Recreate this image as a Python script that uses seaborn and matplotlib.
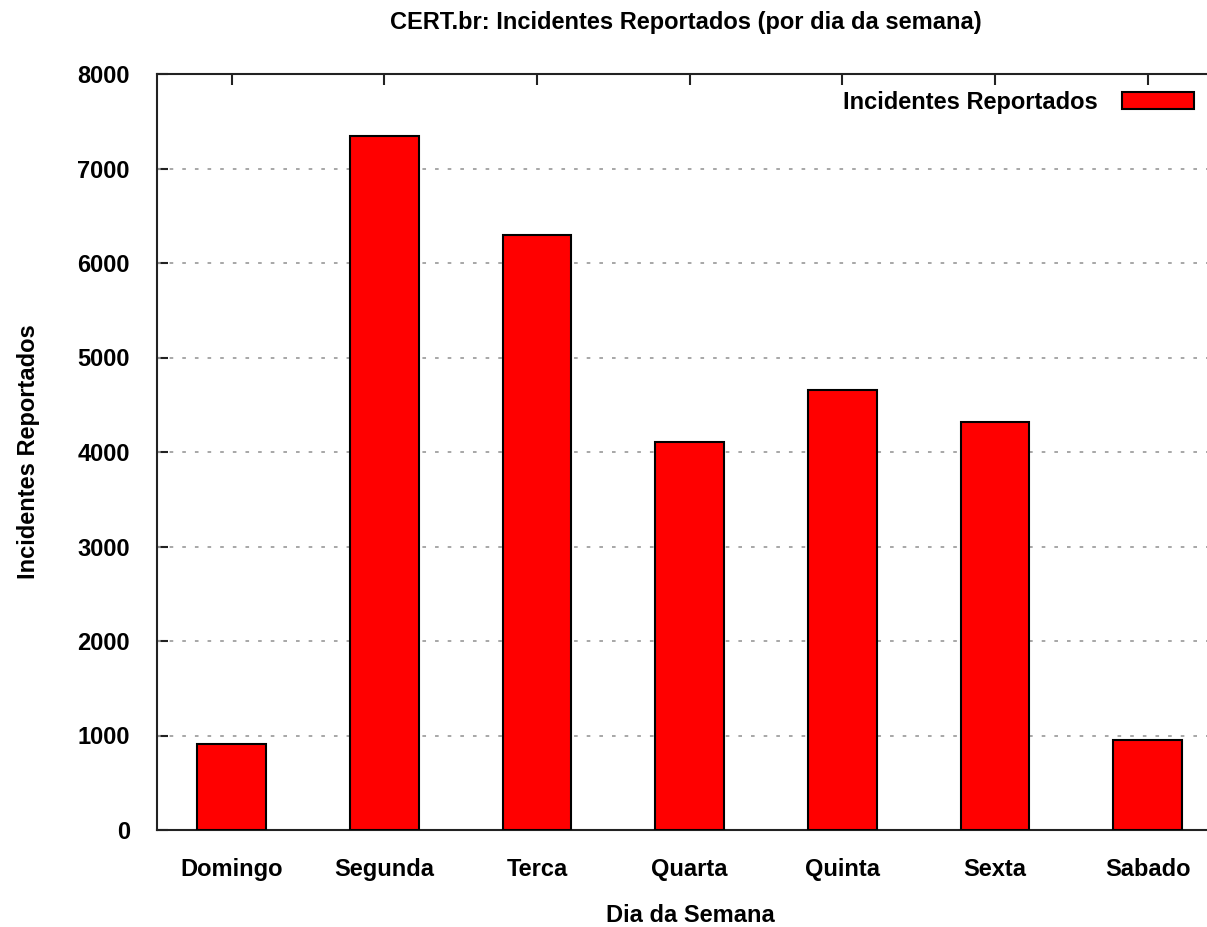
import matplotlib
matplotlib.use("Agg")
import matplotlib.pyplot as plt
import seaborn as sns
import pandas as pd

dias = ["Domingo", "Segunda", "Terca", "Quarta", "Quinta", "Sexta", "Sabado"]
incidentes = [909, 7345, 6300, 4105, 4651, 4313, 948]
yticks = [0, 1000, 2000, 3000, 4000, 5000, 6000, 7000, 8000]

sns.set_theme(style="white")
plt.rcParams["font.family"] = ["Liberation Sans", "DejaVu Sans"]
plt.rcParams["font.weight"] = "bold"
plt.rcParams["text.color"] = "black"
plt.rcParams["axes.labelcolor"] = "black"
plt.rcParams["xtick.color"] = "black"
plt.rcParams["ytick.color"] = "black"

W, H = 1207, 927
fig = plt.figure(figsize=(W / 100, H / 100), dpi=100)
fig.patch.set_facecolor("white")
ax = fig.add_axes([157 / W, (H - 830) / H, (1224 - 157) / W, (830 - 74) / H])

df = pd.DataFrame({"dia": dias, "valor": incidentes})
sns.barplot(data=df, x="dia", y="valor", color="#ff0000", saturation=1,
            width=0.45, edgecolor="black", linewidth=1.5,
            label="Incidentes Reportados", ax=ax, zorder=3)

ax.set_xlim(-0.49, 6.5)
ax.set_ylim(0, 8000)
ax.set_yticks(yticks)
ax.set_yticklabels([str(v) for v in yticks])
ax.set_xticks(range(len(dias)))
ax.set_xticklabels(dias)

for v in yticks[1:-1]:
    ax.axhline(v, color="#a0a0a0", linestyle=(0, (2, 5)), linewidth=1.3, zorder=1)

for s in ["left", "bottom", "top"]:
    ax.spines[s].set_visible(True)
    ax.spines[s].set_color("#222222")
    ax.spines[s].set_linewidth(1.5)
ax.spines["right"].set_visible(False)

ax.tick_params(axis="both", direction="in", length=8, width=1.5, color="#222222",
               labelsize=17, labelcolor="black")
ax.tick_params(axis="x", top=True, bottom=True, pad=20)
ax.tick_params(axis="y", left=True, right=False, pad=19.5)
for lab in ax.get_xticklabels() + ax.get_yticklabels():
    lab.set_fontweight("bold")

ax.set_xlabel("Dia da Semana", fontsize=17, fontweight="bold", labelpad=16.5, color="black")
ax.set_ylabel("Incidentes Reportados", fontsize=17, fontweight="bold", labelpad=27, color="black")
fig.text(686 / W, 1 - 22 / H, "CERT.br: Incidentes Reportados (por dia da semana)",
         ha="center", va="center", fontsize=17, fontweight="bold", color="black")

leg = ax.legend(loc="upper right", bbox_to_anchor=((1193 - 157) / (1224 - 157) + 0.016, 1.0),
                frameon=False, markerfirst=False, fontsize=17, handlelength=3.05,
                handleheight=0.7, handletextpad=1.0, borderaxespad=0.3)
for t in leg.get_texts():
    t.set_fontweight("bold")
    t.set_color("black")

fig.savefig("out.png", dpi=100, facecolor="white")
